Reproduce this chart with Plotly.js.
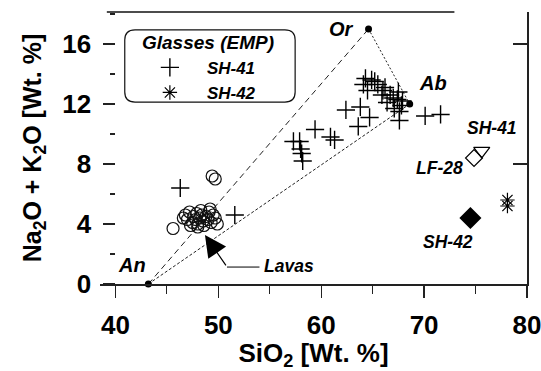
<!DOCTYPE html>
<html>
<head>
<meta charset="utf-8">
<script src="https://cdn.plot.ly/plotly-3.0.1.min.js"></script>
<style>html,body{margin:0;padding:0;background:#fff;}#chart{width:541px;height:371px;}</style>
</head>
<body>
<div id="chart"></div>
<script>
// ---- Data ----
// Lava whole-rock compositions (open circles)
var lavaSiO2 = [46.8,47.0,47.2,47.5,47.6,47.9,48.0,48.2,48.3,48.5,48.6,48.8,49.0,49.1,49.3,49.5,49.7,49.9,48.0,47.3,46.6,49.2,48.4,47.8,49.4,49.7,45.6];
var lavaAlk  = [4.6,4.3,4.8,4.1,4.5,4.7,4.0,4.4,4.9,4.2,3.9,4.5,4.3,4.8,4.1,4.6,4.4,4.0,3.8,3.9,4.4,5.0,4.6,4.3,7.2,7.0,3.7];

// Glasses (EMP) SH-41
var sh41SiO2 = [46.3,51.6,57.3,57.9,58.0,58.1,58.2,59.4,60.9,61.3,62.4,63.8,63.6,64.7,64.1,64.3,64.9,65.5,66.2,64.5,65.9,66.7,67.5,66.4,67.4,67.8,67.1,67.6,67.6,65.2,66.0,67.0,67.9,70.1,71.6];
var sh41Alk  = [6.4,4.6,9.5,9.5,9.0,8.7,8.2,10.3,9.8,9.6,11.6,11.8,10.5,11.1,13.3,13.7,13.6,13.3,13.1,12.9,12.6,12.6,12.8,12.1,12.3,11.9,11.7,11.5,10.9,13.5,12.9,12.4,12.2,11.2,11.3];

// Glasses (EMP) SH-42
var sh42SiO2 = [78.1,78.1];
var sh42Alk  = [5.6,5.2];

// Feldspar end-members
var emNames = ['An','Or','Ab'];
var emSiO2  = [43.2,64.6,68.6];
var emAlk   = [0.0,17.0,12.0];

// Whole-rock samples
var wrNames = ['SH-41','LF-28','SH-42'];
var wrSiO2  = [75.6,74.85,74.5];
var wrAlk   = [8.87,8.4,4.4];

// Axis ticks
var xMajor = [40,50,60,70,80];
var yMajor = [0,4,8,12,16];

// ---- Build ----
var FONT = 'Liberation Sans, Arial, Helvetica, sans-serif';
var iAn = 0, iOr = 1, iAb = 2;

var traces = [
  {x:[emSiO2[iAn],emSiO2[iOr]], y:[emAlk[iAn],emAlk[iOr]], mode:'lines', line:{color:'#222',width:1,dash:'6px,4px'}, showlegend:false, hoverinfo:'skip'},
  {x:[emSiO2[iAn],emSiO2[iAb]], y:[emAlk[iAn],emAlk[iAb]], mode:'lines', line:{color:'#222',width:1,dash:'3px,2px'}, showlegend:false, hoverinfo:'skip'},
  {x:[emSiO2[iOr],emSiO2[iAb]], y:[emAlk[iOr],emAlk[iAb]], mode:'lines', line:{color:'#222',width:1,dash:'2px,2px'}, showlegend:false, hoverinfo:'skip'},
  {x:lavaSiO2, y:lavaAlk, mode:'markers', name:'Lavas', showlegend:false,
   marker:{symbol:'circle-open', size:12, color:'#111', line:{width:1.2,color:'#111'}}},
  {x:sh41SiO2, y:sh41Alk, mode:'markers', name:'SH-41',
   marker:{symbol:'cross-thin-open', size:13, color:'#000', line:{width:1.4,color:'#000'}}},
  {x:sh42SiO2, y:sh42Alk, mode:'markers', name:'SH-42',
   marker:{symbol:'asterisk-open', size:12, color:'#000', line:{width:1.2,color:'#000'}}},
  {x:emSiO2, y:emAlk, mode:'markers', showlegend:false, text:emNames, cliponaxis:false,
   marker:{symbol:'circle', size:7, color:'#000'}},
  {x:[wrSiO2[0]], y:[wrAlk[0]], mode:'markers', showlegend:false, text:[wrNames[0]],
   marker:{symbol:'triangle-down-open', size:14, color:'#000', line:{width:1.2,color:'#000'}}},
  {x:[wrSiO2[1]], y:[wrAlk[1]], mode:'markers', showlegend:false, text:[wrNames[1]],
   marker:{symbol:'diamond-open', size:13, color:'#000', line:{width:1.2,color:'#000'}}},
  {x:[wrSiO2[2]], y:[wrAlk[2]], mode:'markers', showlegend:false, text:[wrNames[2]],
   marker:{symbol:'diamond', size:17, color:'#000'}},
  {x:[], y:[], yaxis:'y2', showlegend:false, hoverinfo:'skip'}
];

var labFont = {family:FONT, size:20, color:'#000', weight:'bold', style:'italic'};
var smallLab = {family:FONT, size:17.5, color:'#000', weight:'bold', style:'italic'};

var annotations = [
  {x:emSiO2[iOr], y:emAlk[iOr], text:emNames[iOr], showarrow:false, xanchor:'center', yanchor:'middle', xshift:-27, yshift:0, font:labFont},
  {x:emSiO2[iAb], y:emAlk[iAb], text:emNames[iAb], showarrow:false, xanchor:'left', yanchor:'middle', xshift:7, yshift:21, font:labFont},
  {x:emSiO2[iAn], y:emAlk[iAn], text:emNames[iAn], showarrow:false, xanchor:'right', yanchor:'middle', xshift:0, yshift:19, font:labFont},
  {x:wrSiO2[0], y:wrAlk[0], text:wrNames[0], showarrow:false, xanchor:'center', yanchor:'middle', xshift:10, yshift:23, font:smallLab},
  {x:wrSiO2[1], y:wrAlk[1], text:wrNames[1], showarrow:false, xanchor:'right', yanchor:'middle', xshift:-9, yshift:-10, font:smallLab},
  {x:wrSiO2[2], y:wrAlk[2], text:wrNames[2], showarrow:false, xanchor:'center', yanchor:'middle', xshift:-22, yshift:-24, font:smallLab},
  {x:48.7, y:3.27, ax:22, ay:32, axref:'pixel', ayref:'pixel', text:'', showarrow:true, arrowhead:2, arrowsize:3.6, arrowwidth:1.2, arrowcolor:'#000'},
  {x:54.2, y:1.2, text:'Lavas', showarrow:false, xanchor:'left', yanchor:'middle', font:smallLab},
  {xref:'paper', yref:'paper', x:0.252, y:0.888, text:'Glasses (EMP)', showarrow:false, xanchor:'center', yanchor:'middle', font:{family:FONT, size:19, color:'#000', weight:'bold', style:'italic'}}
];

var shapes = [
  // Lavas leader line (horizontal part)
  {type:'line', xref:'x', yref:'y', x0:50.84, y0:1.13, x1:54.0, y1:1.13, line:{color:'#000', width:1}},
  // top frame line
  {type:'line', xref:'paper', yref:'paper', x0:0.016, y0:1, x1:0.83, y1:1, line:{color:'#111', width:1.5}},
  // legend rounded box
  {type:'path', xref:'paper', yref:'paper',
   path:'M 0.082 0.934 L 0.433 0.934 Q 0.457 0.934 0.457 0.897 L 0.457 0.706 Q 0.457 0.669 0.433 0.669 L 0.082 0.669 Q 0.058 0.669 0.058 0.706 L 0.058 0.897 Q 0.058 0.934 0.082 0.934 Z',
   line:{color:'#111', width:1.2}}
];

var layout = {
  width:541, height:371,
  margin:{l:100, r:14, t:12, b:87},
  paper_bgcolor:'#fff', plot_bgcolor:'#fff',
  font:{family:FONT, color:'#000'},
  showlegend:true,
  legend:{x:0.077, y:0.861, xanchor:'left', yanchor:'top', itemwidth:64, bgcolor:'rgba(0,0,0,0)', borderwidth:0,
          font:{family:FONT, size:17, color:'#000', weight:'bold', style:'italic'}, tracegroupgap:0},
  xaxis:{range:[38.5,80], tickvals:xMajor, ticks:'outside', ticklen:12, tickwidth:1.3, tickcolor:'#222',
         minor:{dtick:5, tick0:40, ticks:'outside', ticklen:8, tickwidth:1.2, tickcolor:'#222', showgrid:false},
         showline:true, linecolor:'#222', linewidth:1.5, showgrid:false, zeroline:false,
         ticklabeloverflow:'allow',
         tickfont:{family:FONT, size:26, color:'#000', weight:'bold'}, ticklabelstandoff:5,
         title:{text:'SiO<sub>2</sub> [Wt. %]', font:{family:FONT, size:26, color:'#000', weight:'bold'}, standoff:4}},
  yaxis:{range:[0,18.13], anchor:'free', position:0.036, tickvals:yMajor, ticks:'outside', ticklen:12, tickwidth:1.3, tickcolor:'#222',
         minor:{dtick:2, tick0:0, ticks:'outside', ticklen:5, tickwidth:1.2, tickcolor:'#222', showgrid:false},
         showline:false, showgrid:false, zeroline:false,
         tickfont:{family:FONT, size:26, color:'#000', weight:'bold'}, ticklabelstandoff:7,
         title:{text:'Na<sub>2</sub>O + K<sub>2</sub>O [Wt. %]', font:{family:FONT, size:25, color:'#000', weight:'bold'}, standoff:12}},
  yaxis2:{overlaying:'y', matches:'y', side:'right', anchor:'x', tickvals:[8,16], ticks:'inside', ticklen:14, tickwidth:1.3, tickcolor:'#222',
          showticklabels:false, showline:true, linecolor:'#222', linewidth:1.5, showgrid:false, zeroline:false},
  annotations:annotations,
  shapes:shapes
};

Plotly.newPlot('chart', traces, layout, {staticPlot:true, displayModeBar:false});
</script>
</body>
</html>
